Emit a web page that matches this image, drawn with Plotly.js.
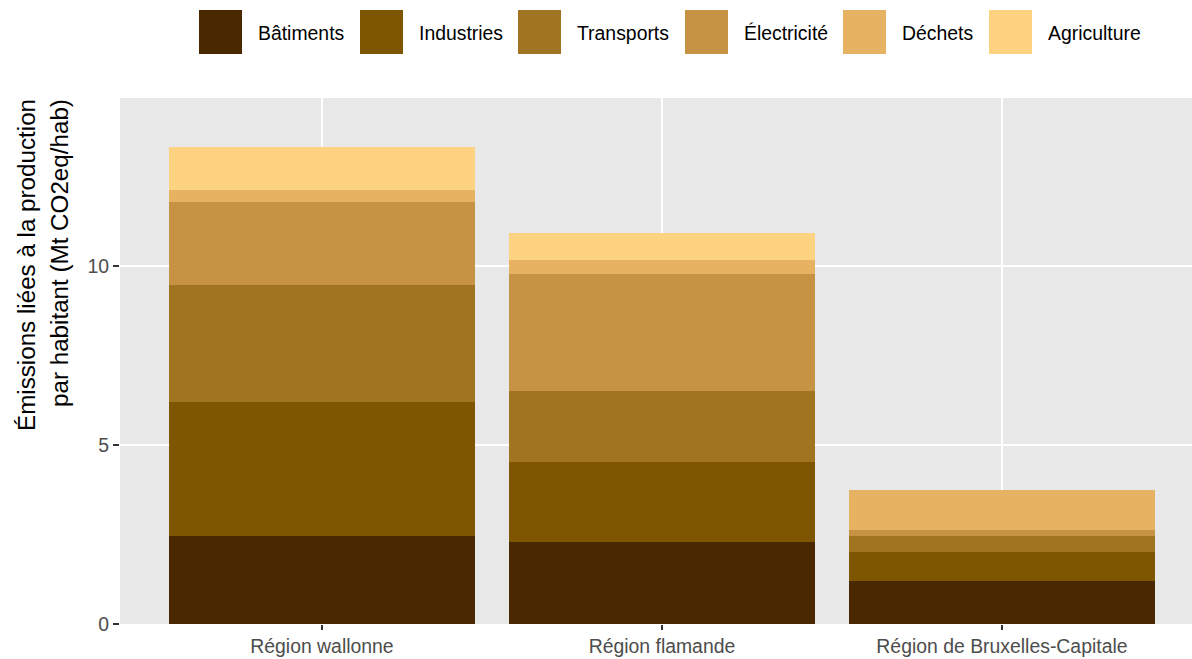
<!DOCTYPE html>
<html><head><meta charset="utf-8">
<script src="https://cdn.plot.ly/plotly-3.0.1.min.js"></script>
<style>html,body{margin:0;padding:0;background:#fff}#chart{width:1192px;height:659px}</style>
</head><body><div id="chart"></div>
<script>
const regions = ["Région wallonne", "Région flamande", "Région de Bruxelles-Capitale"];
const sectors = ["Bâtiments", "Industries", "Transports", "Électricité", "Déchets", "Agriculture"];
const colors = ["#4A2800", "#7F5600", "#A17422", "#C69344", "#E7B262", "#FDD381"];
const batiments   = [2.46, 2.29, 1.20];
const industries  = [3.74, 2.24, 0.81];
const transports  = [3.27, 1.98, 0.45];
const electricite = [2.32, 3.27, 0.17];
const dechets     = [0.33, 0.39, 1.11];
const agriculture = [1.20, 0.75, 0.00];
const values = [batiments, industries, transports, electricite, dechets, agriculture];
const yTicks = [0, 5, 10];
const yTitleLines = ["Émissions liées à la production", "par habitant (Mt CO2eq/hab)"];

const FONT = '"Liberation Sans", Arial, sans-serif';

const traces = sectors.map((s, i) => ({
  type: 'bar', name: s, x: regions, y: values[i],
  marker: {color: colors[i], line: {width: 0}}, showlegend: false,
  hovertemplate: '%{x}<br>' + s + ': %{y}<extra></extra>'
}));

const W = 1192, H = 659;
const m = {l: 120, r: 0, t: 98, b: 35};
const ph = H - m.t - m.b, pw = W - m.l - m.r;
const py = p => (H - m.b - p) / ph;
const px = p => (p - m.l) / pw;

// legend layout (pixel positions)
const keyX = [199, 360, 518, 685, 843, 989];
const keyW = 43, keyGap = 14;
const shapes = [], annotations = [];
sectors.forEach((s, i) => {
  shapes.push({type: 'rect', xref: 'paper', yref: 'paper',
    x0: px(keyX[i]), x1: px(keyX[i] + keyW), y0: py(54), y1: py(10),
    fillcolor: colors[i], line: {width: 0}, layer: 'above'});
  annotations.push({xref: 'paper', yref: 'paper', x: px(keyX[i] + keyW + keyGap), y: py(33),
    xanchor: 'left', yanchor: 'middle', showarrow: false, text: s,
    font: {size: 19.4, color: '#000', family: FONT}});
});
// y-axis title: two lines, aligned with the top of the panel
const titleX = [27, 60];
yTitleLines.forEach((t, i) => {
  annotations.push({xref: 'paper', yref: 'paper', x: px(titleX[i]), y: py(97),
    xanchor: 'center', yanchor: 'top', textangle: -90, showarrow: false, text: t,
    font: {size: 24.2, color: '#000', family: FONT}});
});

const layout = {
  width: W, height: H, margin: m,
  paper_bgcolor: '#fff', plot_bgcolor: '#E8E8E8',
  barmode: 'stack', bargap: 0.1,
  font: {family: FONT, size: 19.4, color: '#4D4D4D'},
  xaxis: {type: 'category', range: [-0.594, 2.559], showgrid: true, gridcolor: '#fff', gridwidth: 2,
    ticks: 'outside', ticklen: 5, tickcolor: '#333', tickwidth: 2, zeroline: false,
    tickfont: {size: 19.4, color: '#4D4D4D', family: FONT}},
  yaxis: {range: [0, 14.69], tickvals: yTicks, ticktext: yTicks.map(String),
    showgrid: true, gridcolor: '#fff', gridwidth: 2, zeroline: false,
    ticks: 'outside', ticklen: 6, tickcolor: '#333', tickwidth: 2,
    tickfont: {size: 19.4, color: '#4D4D4D', family: FONT}},
  shapes: shapes, annotations: annotations
};
Plotly.newPlot('chart', traces, layout, {displayModeBar: false, staticPlot: true});
</script></body></html>
